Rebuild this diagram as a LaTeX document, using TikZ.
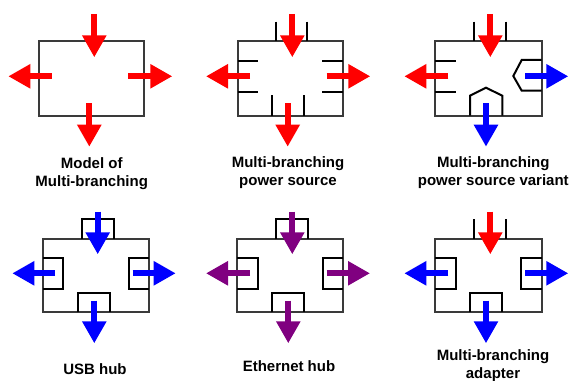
\documentclass[tikz,border=0pt]{standalone}
\usepackage{fontspec}
\setmainfont{Liberation Sans}
\usetikzlibrary{arrows.meta}
\definecolor{boxgray}{HTML}{3A3A3A}
\definecolor{hubpurple}{HTML}{800080}
\tikzset{
  box/.style={draw=boxgray, line width=1.5pt},
  tick/.style={draw=black, line width=1.5pt, line join=miter},
  arr/.style={line width=4.5pt, -{Triangle[length=16.5pt,width=17.25pt]}},
  lbl/.style={font=\fontsize{11.25}{14}\selectfont\bfseries, align=center, inner sep=0pt}
}
\begin{document}
\begin{tikzpicture}[x=0.75pt,y=-0.75pt]
\useasboundingbox (0,0) rectangle (569,381);
% ---- Panel 1: Model of Multi-branching
\draw[box] (39.3,41.3) rectangle (144.3,115.7);
\draw[arr,red] (94.3,14) -- (94.3,57.3);
\draw[arr,red] (51.7,76.3) -- (8.3,76.3);
\draw[arr,red] (128.3,76.3) -- (172.3,76.3);
\draw[arr,red] (89.3,103.3) -- (89.3,146.7);
\node[lbl] (l1) at (91.7,173.5) {Model of\\Multi-branching};
% ---- Panel 2: power source
\draw[box] (237.7,41.3) rectangle (343,115.7);
\draw[tick] (276,21.7) -- (276,41.3);
\draw[tick] (307.3,21.7) -- (307.3,41.3);
\draw[tick] (237.7,61) -- (258.3,61);
\draw[tick] (237.7,91.7) -- (258.3,91.7);
\draw[tick] (322.3,61) -- (343,61);
\draw[tick] (322.3,91.7) -- (343,91.7);
\draw[tick] (271.7,95.3) -- (271.7,115.7);
\draw[tick] (303.7,95.3) -- (303.7,115.7);
\draw[arr,red] (292.3,14) -- (292.3,57.3);
\draw[arr,red] (250,76.3) -- (206,76.3);
\draw[arr,red] (326.7,76.3) -- (370.3,76.3);
\draw[arr,red] (287.7,103.3) -- (287.7,146.7);
\node[lbl] (l2) at (288,172.5) {Multi-branching\\power source};
% ---- Panel 3: power source variant
\draw[box] (435.3,41.3) rectangle (541.7,115.7);
\draw[tick] (474.3,21.7) -- (474.3,41.3);
\draw[tick] (506,21.7) -- (506,41.3);
\draw[tick] (435.3,61) -- (456.3,61);
\draw[tick] (435.3,91.7) -- (456.3,91.7);
\draw[tick] (541.7,60) -- (521.7,60) -- (513.3,76) -- (521.7,90.7) -- (541.7,90.7);
\draw[tick] (470,115.7) -- (470,95.7) -- (486,87.7) -- (502.3,95.7) -- (502.3,115.7);
\draw[arr,red] (490.3,14) -- (490.3,57.3);
\draw[arr,red] (448.3,76.3) -- (404.3,76.3);
\draw[arr,blue] (525,76.3) -- (568.3,76.3);
\draw[arr,blue] (486,103.3) -- (486,146.7);
\node[lbl] (l3) at (493.3,172.5) {Multi-branching\\power source variant};
% ---- Panel 4: USB hub
\draw[box] (43.3,239.3) rectangle (149,312.3);
\draw[tick] (81.7,239.3) -- (81.7,219.3) -- (114,219.3) -- (114,239.3);
\draw[tick] (43.3,258) -- (62.7,258) -- (62.7,289.3) -- (43.3,289.3);
\draw[tick] (149,258) -- (128.7,258) -- (128.7,289.3) -- (149,289.3);
\draw[tick] (77.7,312.3) -- (77.7,292.7) -- (110,292.7) -- (110,312.3);
\draw[arr,blue] (97.7,211.7) -- (97.7,254.3);
\draw[arr,blue] (55,273.3) -- (12.3,273.3);
\draw[arr,blue] (132.7,273.3) -- (175.7,273.3);
\draw[arr,blue] (94.3,300.7) -- (94.3,343.3);
\node[lbl] (l4) at (95,369.3) {USB hub};
% ---- Panel 5: Ethernet hub
\draw[box] (237.3,239.3) rectangle (343.3,312.3);
\draw[tick] (275.7,239.3) -- (275.7,219.3) -- (307.7,219.3) -- (307.7,239.3);
\draw[tick] (237.3,258) -- (257.7,258) -- (257.7,289.3) -- (237.3,289.3);
\draw[tick] (343.3,258) -- (323.3,258) -- (323.3,289.3) -- (343.3,289.3);
\draw[tick] (272,312.3) -- (272,292.7) -- (304,292.7) -- (304,312.3);
\draw[arr,hubpurple] (292.3,211.7) -- (292.3,254.3);
\draw[arr,hubpurple] (250,273.3) -- (206,273.3);
\draw[arr,hubpurple] (326.7,273.3) -- (370,273.3);
\draw[arr,hubpurple] (288.3,300.7) -- (288.3,343.3);
\node[lbl] (l5) at (289,365.7) {Ethernet hub};
% ---- Panel 6: adapter
\draw[box] (435.3,239.3) rectangle (541.7,312.3);
\draw[tick] (474.3,219.3) -- (474.3,239.3);
\draw[tick] (506,219.3) -- (506,239.3);
\draw[tick] (435.3,258) -- (456,258) -- (456,289.3) -- (435.3,289.3);
\draw[tick] (541.7,258) -- (521,258) -- (521,289.3) -- (541.7,289.3);
\draw[tick] (470,312.3) -- (470,292.7) -- (502.3,292.7) -- (502.3,312.3);
\draw[arr,red] (490.3,211.7) -- (490.3,254.3);
\draw[arr,blue] (448.3,273.3) -- (404.3,273.3);
\draw[arr,blue] (525,273.3) -- (568.3,273.3);
\draw[arr,blue] (486,300.7) -- (486,343.3);
\node[lbl] (l6) at (493,365.5) {Multi-branching\\adapter};
\end{tikzpicture}
\end{document}
